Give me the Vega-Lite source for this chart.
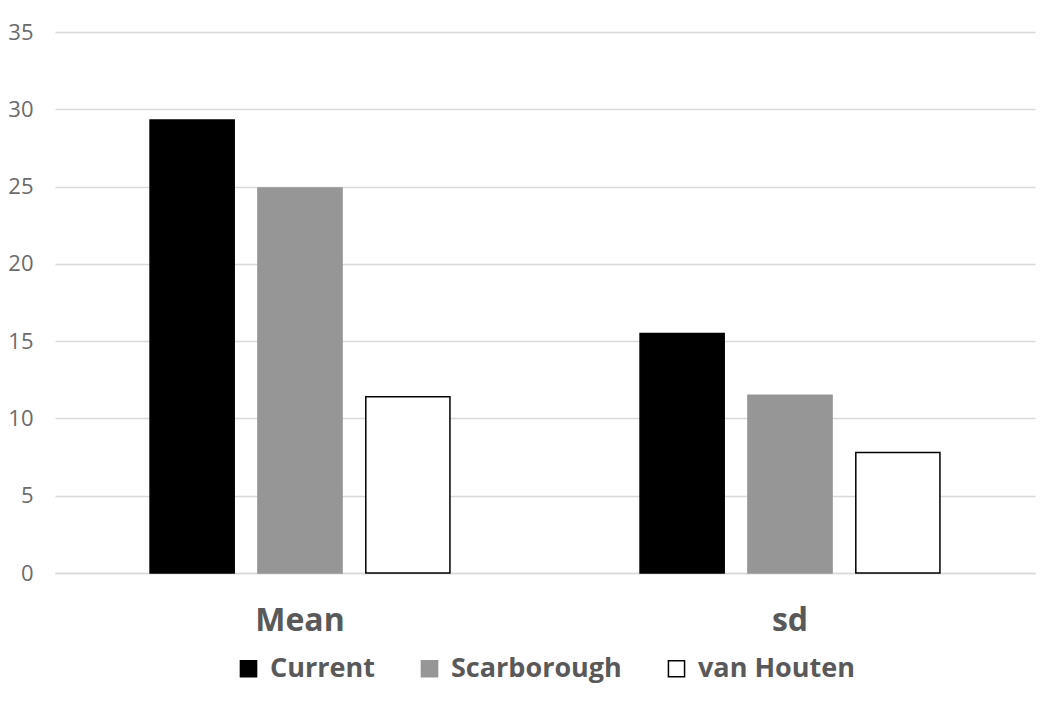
{
  "$schema": "https://vega.github.io/schema/vega-lite/v6.json",
  "width": 980,
  "height": 541,
  "autosize": {"type": "none"},
  "padding": {"left": 55, "top": 32, "right": 15, "bottom": 139},
  "background": "white",
  "config": {
    "view": {"stroke": null},
    "font": "Open Sans",
    "axis": {"labelFont": "Open Sans", "labelColor": "#595959"},
    "legend": {"labelFont": "Open Sans"}
  },
  "data": {
    "values": [
      {"stat": "Mean", "source": "Current", "value": 29.3},
      {"stat": "Mean", "source": "Scarborough", "value": 24.9},
      {"stat": "Mean", "source": "van Houten", "value": 11.4},
      {"stat": "sd", "source": "Current", "value": 15.5},
      {"stat": "sd", "source": "Scarborough", "value": 11.5},
      {"stat": "sd", "source": "van Houten", "value": 7.8}
    ]
  },
  "mark": {"type": "bar", "strokeWidth": 1.5},
  "encoding": {
    "x": {
      "field": "stat",
      "type": "nominal",
      "sort": ["Mean", "sd"],
      "scale": {"paddingInner": 0.388, "paddingOuter": 0.194},
      "axis": {
        "title": null,
        "labelAngle": 0,
        "labelFontSize": 32,
        "labelFontWeight": "bold",
        "labelPadding": 32,
        "ticks": false,
        "domainColor": "#d9d9d9",
        "domainWidth": 1.5
      }
    },
    "xOffset": {
      "field": "source",
      "type": "nominal",
      "sort": ["Current", "Scarborough", "van Houten"],
      "scale": {"paddingInner": 0.22, "paddingOuter": 0}
    },
    "y": {
      "field": "value",
      "type": "quantitative",
      "scale": {"domain": [0, 35], "nice": false},
      "axis": {
        "title": null,
        "values": [0, 5, 10, 15, 20, 25, 30, 35],
        "labelFontSize": 22,
        "labelColor": "#6b6b6b",
        "labelPadding": 22,
        "ticks": false,
        "domain": false,
        "gridColor": "#d9d9d9",
        "gridWidth": 1.5
      }
    },
    "fill": {
      "field": "source",
      "type": "nominal",
      "sort": ["Current", "Scarborough", "van Houten"],
      "scale": {"domain": ["Current", "Scarborough", "van Houten"], "range": ["#000000", "#969696", "#ffffff"]},
      "legend": {
        "title": null,
        "orient": "none",
        "direction": "horizontal",
        "legendX": 180,
        "legendY": 623,
        "symbolType": "square",
        "symbolSize": 260,
        "symbolStrokeWidth": 1.5,
        "labelFontSize": 27,
        "labelFontWeight": "bold",
        "labelColor": "#595959",
        "labelOffset": 8,
        "labelLimit": 400,
        "columnPadding": 41
      }
    },
    "stroke": {
      "field": "source",
      "type": "nominal",
      "sort": ["Current", "Scarborough", "van Houten"],
      "scale": {"domain": ["Current", "Scarborough", "van Houten"], "range": ["#000000", "#969696", "#000000"]},
      "legend": null
    }
  }
}
